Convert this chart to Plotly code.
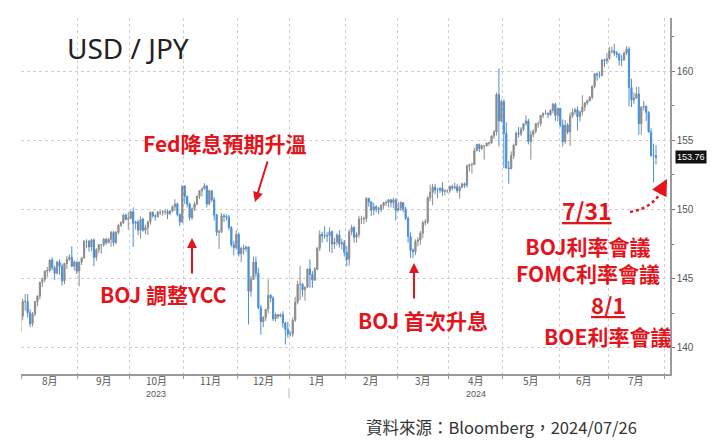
import numpy as np
import pandas as pd
import plotly.graph_objects as go

# ---------------- data (USD/JPY daily OHLC, weekdays 2023-07-31 .. 2024-07-26) ----------------
usdjpy_open = [
    141.15,
    142.3, 143.35, 143.35, 142.55, 141.75, 142.45, 143.35, 143.75, 144.75, 144.95, 145.55, 145.6, 146.35, 145.8, 145.4, 146.2, 145.9, 144.85, 146.1, 146.4, 146.55, 145.9, 146.2,
    145.55, 146.2, 146.5, 147.7, 147.7, 147.3, 147.8, 146.55, 147.1, 147.45, 147.45, 147.85, 147.6, 147.85, 148.35, 147.6, 148.35, 148.85, 149.05, 149.6, 149.3,
    149.35, 149.85, 149.0, 149.1, 148.5, 149.3, 148.5, 148.7, 149.1, 149.8, 149.55, 149.5, 149.8, 149.8, 149.85, 149.85, 149.7, 149.9, 150.2, 150.4, 149.65, 149.1,
    151.7, 150.95, 150.4, 149.4, 150.05, 150.4, 150.95, 151.35, 151.5, 151.7, 150.4, 151.35, 150.7, 149.6, 148.35, 148.4, 149.55, 149.5, 149.45, 148.7, 147.45, 147.25,
    148.2, 146.8, 147.2, 147.15, 147.3, 144.1, 144.95, 146.2, 145.4, 142.9, 141.9, 142.2, 142.8, 143.8, 143.6, 142.1, 142.4, 142.3, 142.4, 141.8, 141.35,
    141.0, 141.0, 142.0, 143.3, 144.6, 144.6, 144.2, 144.4, 145.7, 145.3, 144.9, 145.7, 147.2, 148.2, 148.1, 148.1, 148.1, 148.4, 147.5, 147.65, 148.15, 147.5, 147.6,
    146.9, 146.4, 148.4, 148.7, 148.0, 148.2, 149.3, 149.3, 149.35, 150.8, 150.55, 149.95, 150.2, 150.05, 150.0, 150.3, 150.5, 150.5, 150.7, 150.5, 150.7,
    149.95, 150.1, 150.5, 150.0, 149.35, 148.05, 147.05, 146.95, 147.7, 147.8, 148.3, 149.05, 149.1, 150.85, 151.25, 151.6, 151.4, 151.4, 151.55, 151.3, 151.35,
    151.35, 151.65, 151.55, 151.65, 151.35, 151.6, 151.85, 151.75, 153.15, 153.25, 153.25, 154.25, 154.7, 154.4, 154.6, 154.6, 154.8, 154.8, 155.3, 155.6, 158.3, 156.4,
    157.8, 155.5, 153.0, 152.95, 153.9, 154.65, 155.5, 155.45, 155.8, 156.2, 156.4, 154.9, 155.4, 155.65, 156.2, 156.2, 156.8, 156.95, 156.95, 156.85, 157.15, 157.6, 156.8,
    157.3, 156.1, 154.9, 156.1, 155.6, 156.75, 157.05, 157.2, 156.7, 157.05, 157.4, 157.7, 157.85, 158.1, 158.9, 159.8, 159.7, 159.7, 160.8, 160.75,
    160.9, 161.45, 161.45, 161.3, 161.2, 160.8, 160.8, 161.3, 161.6, 158.8, 157.9, 158.05, 158.35, 156.2, 157.4, 157.45, 157.0, 155.6, 153.9, 153.9,
]
usdjpy_high = [
    142.7,
    143.55, 143.9, 143.9, 142.8, 142.6, 143.4, 143.8, 144.75, 145.1, 145.6, 145.85, 146.4, 146.55, 145.95, 146.3, 146.4, 146.1, 146.15, 146.65, 146.75, 147.35, 146.35, 146.25,
    146.25, 146.55, 147.8, 147.85, 147.8, 147.9, 147.9, 147.2, 147.5, 147.5, 147.95, 147.95, 147.95, 148.45, 148.45, 148.45, 148.95, 149.15, 149.7, 149.7, 149.8,
    149.9, 150.16, 149.2, 149.25, 149.5, 149.4, 148.9, 149.2, 149.85, 149.85, 149.65, 149.9, 149.95, 149.95, 150.0, 150.0, 149.95, 150.3, 150.75, 150.5, 149.7, 151.7,
    151.75, 151.0, 150.5, 150.15, 150.55, 151.0, 151.4, 151.6, 151.9, 151.75, 151.45, 151.4, 150.9, 149.7, 148.55, 149.75, 149.7, 149.65, 149.6, 148.8, 147.75, 148.5,
    148.35, 147.3, 147.45, 147.4, 147.3, 145.2, 146.6, 146.6, 145.8, 143.1, 142.3, 142.8, 144.95, 143.9, 143.75, 142.55, 142.45, 142.5, 142.65, 141.9, 141.9,
    141.2, 142.2, 143.7, 144.85, 145.95, 144.7, 144.4, 145.75, 146.4, 145.55, 145.85, 147.3, 148.5, 148.4, 148.8, 148.35, 148.7, 148.5, 147.95, 148.3, 148.5, 147.9, 147.8,
    147.35, 148.55, 148.9, 148.8, 148.35, 149.55, 149.55, 149.5, 150.9, 150.85, 150.6, 150.5, 150.3, 150.2, 150.35, 150.55, 150.65, 150.75, 150.75, 150.85, 150.8,
    150.55, 150.6, 150.55, 150.2, 149.5, 148.35, 147.2, 147.85, 148.0, 148.45, 149.2, 149.3, 150.95, 151.8, 151.85, 151.85, 151.55, 151.6, 151.97, 151.45, 151.45,
    151.75, 151.8, 151.95, 151.85, 151.75, 151.95, 151.95, 153.25, 153.3, 153.4, 154.45, 154.75, 154.75, 154.7, 154.65, 154.85, 154.9, 155.35, 155.75, 158.45, 160.2, 157.95,
    157.95, 156.3, 153.5, 154.2, 154.75, 155.65, 155.95, 155.95, 156.25, 156.8, 156.55, 155.7, 155.8, 156.25, 156.35, 156.75, 157.0, 157.2, 157.0, 157.25, 157.7, 157.7, 157.35,
    157.35, 156.5, 156.45, 156.25, 157.0, 157.3, 157.35, 157.45, 157.15, 158.25, 157.75, 157.95, 158.2, 158.95, 159.85, 159.9, 159.95, 160.85, 160.9, 161.3,
    161.75, 161.75, 161.95, 161.45, 161.3, 161.15, 161.4, 161.8, 161.75, 159.45, 158.45, 158.85, 158.85, 157.45, 157.85, 157.5, 157.1, 155.85, 154.75, 154.65,
]
usdjpy_low = [
    140.7,
    142.0, 142.7, 142.2, 141.5, 141.55, 142.3, 143.0, 143.5, 144.4, 144.75, 145.1, 145.45, 145.6, 144.9, 145.3, 145.3, 144.5, 144.6, 145.7, 146.3, 145.85, 145.6, 145.35,
    144.45, 146.0, 146.45, 147.2, 146.95, 147.0, 145.9, 146.3, 146.85, 146.8, 147.3, 147.45, 147.55, 147.3, 147.35, 147.5, 148.2, 148.75, 148.95, 149.2, 148.55,
    149.3, 147.3, 148.55, 148.15, 147.9, 148.4, 148.2, 148.15, 148.9, 149.4, 149.2, 149.4, 149.6, 149.55, 149.6, 149.3, 149.6, 149.8, 149.9, 149.5, 148.8, 149.0,
    150.4, 150.15, 149.2, 149.25, 149.9, 150.3, 150.75, 150.95, 151.45, 150.15, 150.3, 150.55, 149.2, 148.1, 147.15, 148.3, 149.1, 149.2, 148.5, 147.3, 146.7, 147.1,
    146.6, 146.2, 146.75, 146.95, 141.7, 143.7, 144.9, 145.1, 142.8, 140.95, 141.5, 141.95, 142.5, 143.3, 141.95, 141.9, 142.1, 142.2, 141.45, 140.25, 140.75,
    140.85, 140.8, 141.9, 143.15, 143.45, 143.7, 143.4, 144.35, 144.35, 144.35, 144.85, 145.6, 147.0, 147.6, 147.9, 147.65, 146.95, 146.85, 147.15, 147.4, 147.25, 147.1, 146.6,
    145.9, 145.95, 148.15, 147.6, 147.6, 147.95, 148.95, 148.95, 149.1, 150.2, 149.55, 149.6, 149.8, 149.65, 149.8, 150.05, 150.25, 150.15, 150.15, 150.1, 149.2,
    149.85, 149.9, 149.8, 149.25, 147.6, 146.5, 146.5, 146.7, 147.35, 147.45, 147.95, 148.85, 148.95, 150.6, 150.3, 151.1, 150.8, 151.2, 151.0, 151.05, 151.2,
    151.2, 151.4, 151.45, 151.2, 150.8, 151.55, 151.55, 151.6, 152.75, 152.6, 153.2, 154.2, 154.15, 154.3, 153.6, 154.55, 154.6, 154.75, 155.1, 155.35, 154.55, 156.3,
    153.0, 152.95, 151.86, 152.9, 153.65, 154.6, 155.2, 155.3, 155.65, 156.05, 154.7, 153.6, 155.2, 155.5, 155.9, 156.0, 156.6, 156.85, 156.6, 156.75, 156.95, 156.4, 156.35,
    155.95, 154.55, 154.75, 155.45, 154.6, 156.6, 156.85, 155.7, 156.35, 156.8, 157.1, 157.55, 157.8, 157.95, 158.75, 159.3, 159.5, 159.6, 160.3, 160.5,
    160.8, 161.25, 161.1, 160.95, 160.4, 160.35, 160.75, 161.15, 157.45, 157.4, 157.6, 158.0, 155.4, 155.4, 157.15, 156.4, 155.55, 153.8, 151.95, 153.25,
]
usdjpy_close = [
    142.3,
    143.35, 143.35, 142.55, 141.75, 142.45, 143.35, 143.75, 144.75, 144.95, 145.55, 145.6, 146.35, 145.8, 145.4, 146.2, 145.9, 144.85, 146.1, 146.4, 146.55, 145.9, 146.2, 145.55,
    146.2, 146.5, 147.7, 147.7, 147.3, 147.8, 146.55, 147.1, 147.45, 147.45, 147.85, 147.6, 147.85, 148.35, 147.6, 148.35, 148.85, 149.05, 149.6, 149.3, 149.35,
    149.85, 149.0, 149.1, 148.5, 149.3, 148.5, 148.7, 149.1, 149.8, 149.55, 149.5, 149.8, 149.8, 149.85, 149.85, 149.7, 149.9, 150.2, 150.4, 149.65, 149.1, 151.7,
    150.95, 150.4, 149.4, 150.05, 150.4, 150.95, 151.35, 151.5, 151.7, 150.4, 151.35, 150.7, 149.6, 148.35, 148.4, 149.55, 149.5, 149.45, 148.7, 147.45, 147.25, 148.2,
    146.8, 147.2, 147.15, 147.3, 144.1, 144.95, 146.2, 145.4, 142.9, 141.9, 142.2, 142.8, 143.8, 143.6, 142.1, 142.4, 142.3, 142.4, 141.8, 141.35, 141.0,
    141.0, 142.0, 143.3, 144.6, 144.6, 144.2, 144.4, 145.7, 145.3, 144.9, 145.7, 147.2, 148.2, 148.1, 148.1, 148.1, 148.4, 147.5, 147.65, 148.15, 147.5, 147.6, 146.9,
    146.4, 148.4, 148.7, 148.0, 148.2, 149.3, 149.3, 149.35, 150.8, 150.55, 149.95, 150.2, 150.05, 150.0, 150.3, 150.5, 150.5, 150.7, 150.5, 150.7, 149.95,
    150.1, 150.5, 150.0, 149.35, 148.05, 147.05, 146.95, 147.7, 147.8, 148.3, 149.05, 149.1, 150.85, 151.25, 151.6, 151.4, 151.4, 151.55, 151.3, 151.35, 151.35,
    151.65, 151.55, 151.65, 151.35, 151.6, 151.85, 151.75, 153.15, 153.25, 153.25, 154.25, 154.7, 154.4, 154.6, 154.6, 154.8, 154.8, 155.3, 155.6, 158.3, 156.4, 157.8,
    155.5, 153.0, 152.95, 153.9, 154.65, 155.5, 155.45, 155.8, 156.2, 156.4, 154.9, 155.4, 155.65, 156.2, 156.2, 156.8, 156.95, 156.95, 156.85, 157.15, 157.6, 156.8, 157.3,
    156.1, 154.9, 156.1, 155.6, 156.75, 157.05, 157.2, 156.7, 157.05, 157.4, 157.7, 157.85, 158.1, 158.9, 159.8, 159.7, 159.7, 160.8, 160.75, 160.9,
    161.45, 161.45, 161.3, 161.2, 160.8, 160.8, 161.3, 161.6, 158.8, 157.9, 158.05, 158.35, 156.2, 157.4, 157.45, 157.0, 155.6, 153.9, 153.9, 153.76,
]
month_labels = ["8月", "9月", "10月", "11月", "12月", "1月", "2月", "3月", "4月", "5月", "6月", "7月"]
year_labels = {"10月": "2023", "4月": "2024"}
y_ticks = [140, 145, 150, 155, 160]
last_price_label = "153.76"

# ---------------- positions (trading-day axis) ----------------
n = len(usdjpy_close)
trade_days = pd.bdate_range("2023-07-31", periods=n)
axis_days = pd.bdate_range("2023-07-31", "2024-07-31")
x_idx = np.arange(n)

periods = axis_days.to_period("M")
month_first, month_mid = [], []
for p in periods.unique()[1:]:
    idx = np.where(periods == p)[0]
    month_first.append(idx[0] - 0.5)
    month_mid.append((idx[0] + idx[-1]) / 2.0)
boundaries = month_first + [len(axis_days) - 0.5]

RED = "#e3141b"
CJK = "Noto Sans CJK TC"

fig = go.Figure()
fig.add_trace(go.Candlestick(
    x=x_idx, open=usdjpy_open, high=usdjpy_high, low=usdjpy_low, close=usdjpy_close,
    increasing=dict(line=dict(color="#8c8c8c", width=1), fillcolor="#8c8c8c"),
    decreasing=dict(line=dict(color="#4a8fd6", width=1), fillcolor="#4a8fd6"),
    whiskerwidth=0, showlegend=False, hoverinfo="skip",
))

X0, X1, Y0, Y1 = 21, 670, 18, 374
def px(xp):
    return (xp - X0) / (X1 - X0)
def py(yp):
    return (Y1 - yp) / (Y1 - Y0)

ann = []
ann.append(dict(text="USD / JPY", x=px(128), y=py(48), xref="paper", yref="paper",
                xanchor="center", yanchor="middle", showarrow=False,
                font=dict(family="Noto Sans", size=28, color="#222")))
def red_text(t, cx, cy, size=21):
    ann.append(dict(text=t, x=px(cx), y=py(cy), xref="paper", yref="paper", showarrow=False,
                    xanchor="center", yanchor="middle", align="center", borderpad=0,
                    font=dict(family=CJK, size=size, color=RED, weight=700)))
red_text("Fed降息預期升溫", 224.5, 143)
red_text("BOJ 調整YCC", 163, 294)
red_text("BOJ 首次升息", 422.5, 320)
red_text("<u>7/31</u>", 587, 210, 23)
red_text("BOJ利率會議<br>FOMC利率會議", 588, 259)
red_text("<u>8/1</u>", 607.5, 304, 22)
red_text("BOE利率會議", 607.5, 336)

def arrow(hx, hy, tx, ty, size=1.0, width=2):
    ann.append(dict(text="", x=px(hx), y=py(hy), xref="paper", yref="paper", showarrow=True,
                    ax=tx - hx, ay=ty - hy, arrowhead=2, arrowsize=size, arrowwidth=width,
                    arrowcolor=RED))
arrow(255, 202, 268, 160)
arrow(192, 238, 192, 275)
arrow(414, 263, 414, 300)
arrow(667, 179, 660, 192, size=1.3, width=2.5)

# month + year labels
for lab, xm in zip(month_labels, month_mid):
    ann.append(dict(text=lab, x=xm, y=py(380.5), xref="x", yref="paper", showarrow=False,
                    xanchor="center", yanchor="middle",
                    font=dict(family=CJK, size=10, color="#555")))
    if lab in year_labels:
        ann.append(dict(text=year_labels[lab], x=xm, y=py(393.5), xref="x", yref="paper",
                        xanchor="center", yanchor="middle", showarrow=False,
                        font=dict(family="Liberation Sans", size=9, color="#555")))

ann.append(dict(text=last_price_label, x=1, y=usdjpy_close[-1], xref="paper", yref="y",
                xanchor="left", yanchor="middle", xshift=5, showarrow=False,
                bgcolor="#111111", borderpad=1,
                font=dict(family="Liberation Sans", size=9, color="white")))
ann.append(dict(text="資料來源：Bloomberg，2024/07/26", x=px(501), y=py(427), xref="paper",
                yref="paper", xanchor="center", yanchor="middle", showarrow=False,
                font=dict(family=CJK, size=16.5, color="#333")))

shapes = [
    dict(type="path", xref="paper", yref="paper",
         path=f"M {px(630)},{py(212)} Q {px(652)},{py(208)} {px(660)},{py(193)}",
         line=dict(color=RED, width=2.5, dash="dot")),
    dict(type="line", xref="x", yref="paper", x0=month_first[5], x1=month_first[5],
         y0=py(388), y1=py(398), line=dict(color="#bbbbbb", width=1)),
]

fig.update_layout(
    width=725, height=444, autosize=False,
    margin=dict(l=X0, r=725 - X1, t=Y0, b=444 - Y1),
    paper_bgcolor="white", plot_bgcolor="white",
    annotations=ann, shapes=shapes, showlegend=False,
    xaxis=dict(range=[0.3, 264.7], rangeslider=dict(visible=False), tickmode="array",
               tickvals=boundaries, showticklabels=False, ticks="outside", ticklen=3,
               tickcolor="#999", showgrid=True, gridcolor="#cfcfcf", griddash="dot",
               gridwidth=1, showline=True, linecolor="#9a9a9a", linewidth=1.5, zeroline=False,
               automargin=False),
    yaxis=dict(side="right", range=[138.12, 163.83], tickmode="array", tickvals=y_ticks,
               ticks="outside", ticklen=3, tickcolor="#777", showgrid=True,
               gridcolor="#cfcfcf", griddash="dot", gridwidth=1, showline=True,
               linecolor="#9a9a9a", linewidth=1.5, zeroline=False, automargin=False,
               tickfont=dict(family="Liberation Sans", size=10, color="#555"),
               minor=dict(dtick=2.5, tick0=140, ticks="outside", ticklen=2, tickcolor="#777",
                          showgrid=False)),
)

fig.write_html("out.html", config={"displayModeBar": False},
               post_script="document.body.style.margin='0';")
